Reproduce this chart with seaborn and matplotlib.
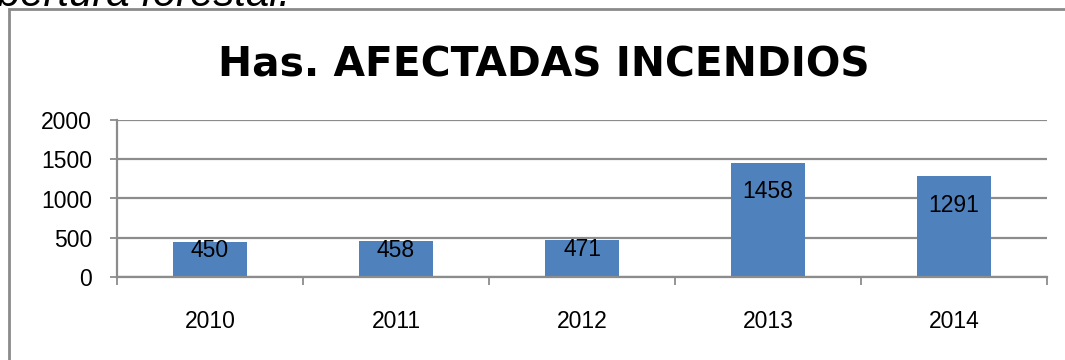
import numpy as np
import pandas as pd
import matplotlib
matplotlib.use("Agg")
import matplotlib.pyplot as plt
from matplotlib.patches import Rectangle
import seaborn as sns

# Hectares affected by forest fires per year
years = ["2010", "2011", "2012", "2013", "2014"]
hectares = [450, 458, 471, 1458, 1291]
y_ticks = [0, 500, 1000, 1500, 2000]
title = "Has. AFECTADAS INCENDIOS"

BAR = "#4F81BD"
GRID = "#8C8C8C"
DPI = 100
W, H = 1065, 360

sns.set_theme(style="white")
plt.rcParams["font.family"] = ["Liberation Sans", "DejaVu Sans"]

fig = plt.figure(figsize=(W / DPI, H / DPI), dpi=DPI)
fig.patch.set_facecolor("white")

def fx(px):
    return px / W

def fy(px):
    return 1 - px / H

ax = fig.add_axes([fx(117), fy(277), fx(1047) - fx(117), fy(120) - fy(277)])

df = pd.DataFrame({"year": years, "ha": hectares})
sns.barplot(data=df, x="year", y="ha", color=BAR, saturation=1, width=0.4,
            edgecolor="none", ax=ax, zorder=3)

ax.set_xlim(-0.5, len(years) - 0.5)
ax.set_ylim(y_ticks[0], y_ticks[-1])
ax.set_xlabel("")
ax.set_ylabel("")

# category boundaries carry the tick marks, labels sit at the centres
ax.set_xticks(np.arange(-0.5, len(years), 1.0))
ax.set_xticklabels([])
ax.set_xticks(np.arange(len(years)), minor=True)
ax.set_xticklabels(years, minor=True)
ax.tick_params(axis="x", which="major", length=6, width=1.3, color=GRID, direction="out", bottom=True)
ax.tick_params(axis="x", which="minor", length=0, pad=24, labelsize=16.5, labelcolor="black", bottom=True)

ax.set_yticks(y_ticks)
ax.set_yticklabels([str(v) for v in y_ticks])
ax.tick_params(axis="y", length=5, width=1.3, color=GRID, direction="out", left=True,
               pad=13, labelsize=16.5, labelcolor="black")

ax.yaxis.grid(True, color=GRID, linewidth=1.6, zorder=0)
ax.xaxis.grid(False)
ax.set_axisbelow(True)
for side in ("top", "right"):
    ax.spines[side].set_visible(False)
for side in ("left", "bottom"):
    ax.spines[side].set_color(GRID)
    ax.spines[side].set_linewidth(1.6)
    ax.spines[side].set_zorder(4)

# value labels inside the bars, near the top
label_drop_px = [9, 9, 9, 29, 30]
for i, (v, d) in enumerate(zip(hectares, label_drop_px)):
    ax.annotate(str(v), xy=(i, v), xytext=(0, -d * 72 / DPI), textcoords="offset points",
                ha="center", va="center", fontsize=16.5, color="black", zorder=5)

# chart title, sized to span its width
t = fig.text(fx(544), fy(76.7), title, ha="center", va="baseline",
             fontsize=30, fontweight="bold", family=["DejaVu Sans"], color="black")

# tail of the preceding paragraph line, running off the top edge
p = fig.text(fx(-3), fy(6), "bertura forestal.", ha="left", va="baseline",
             fontsize=22, style="italic", color="black")

fig.canvas.draw()
t.set_fontsize(30 * 652 / t.get_window_extent().width)
p.set_fontsize(22 * 293 / p.get_window_extent().width)

# chart frame
fig.patches.append(Rectangle((fx(9), -0.2), 2.0, fy(9) + 0.2, transform=fig.transFigure,
                             fill=False, edgecolor="#8A8A8A", linewidth=2.0))

fig.savefig("out.png", dpi=DPI, facecolor="white")
